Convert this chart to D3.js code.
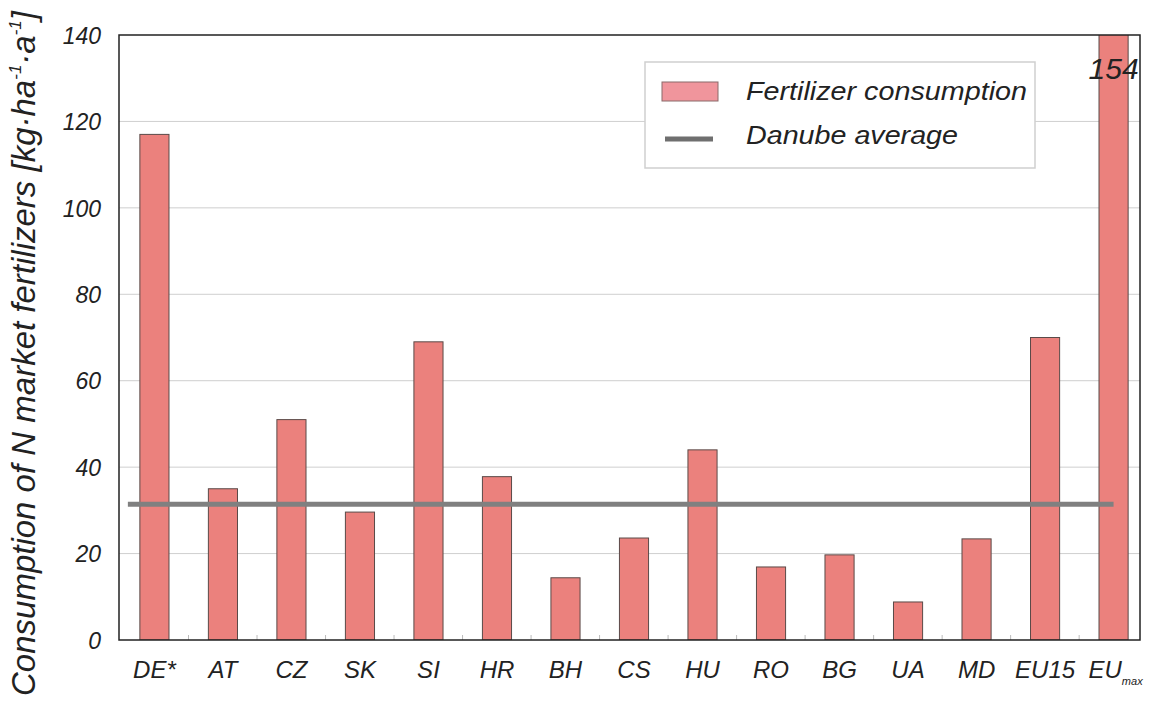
<!DOCTYPE html>
<html>
<head>
<meta charset="utf-8">
<script src="https://cdn.jsdelivr.net/npm/d3@7"></script>
<style>
  body { margin: 0; background: #fff; }
  text { font-family: "Liberation Sans", Arial, sans-serif; font-style: italic; fill: #222; }
</style>
</head>
<body>
<svg id="chart" width="1150" height="704"></svg>
<script>
// data
const countries = ["DE*", "AT", "CZ", "SK", "SI", "HR", "BH", "CS", "HU", "RO", "BG", "UA", "MD", "EU15", "EUmax"]
const consumption = [117, 35, 51, 29.6, 69, 37.8, 14.4, 23.6, 44, 16.9, 19.7, 8.8, 23.4, 70, 154]
const danubeAverage = 31.4
const yTicks = [0, 20, 40, 60, 80, 100, 120, 140]

const svg = d3.select("#chart")
const margin = {top: 35, right: 10, bottom: 64, left: 119}
const width = 1150 - margin.left - margin.right
const height = 704 - margin.top - margin.bottom

// the categories run a little past the right frame in the original
const x = d3.scaleBand().domain(countries).range([1, 1029]).paddingInner(0.575).paddingOuter(0.29)
const y = d3.scaleLinear().domain([0, 140]).range([height, 0])

svg.append("defs").append("clipPath").attr("id", "plotclip")
    .append("rect").attr("width", width).attr("height", height)

const g = svg.append("g").attr("transform", `translate(${margin.left},${margin.top})`)

// gridlines
g.append("g").selectAll("line")
    .data(yTicks.filter(d => d > 0 && d < 140))
    .join("line")
    .attr("x1", 0).attr("x2", width)
    .attr("y1", d => y(d)).attr("y2", d => y(d))
    .attr("stroke", "#cfcfcf").attr("stroke-width", 1)

// small ticks between categories on the bottom
const step = x.step()
g.append("g").selectAll("line")
    .data(d3.range(1, countries.length))
    .join("line")
    .attr("x1", i => x(countries[i]) - step * 0.29).attr("x2", i => x(countries[i]) - step * 0.29)
    .attr("y1", height).attr("y2", height - 5)
    .attr("stroke", "#bbb")

// bars
g.append("g").attr("clip-path", "url(#plotclip)").selectAll("rect")
    .data(countries.map((c, i) => ({c, v: consumption[i]})))
    .join("rect")
    .attr("x", d => x(d.c))
    .attr("width", x.bandwidth())
    .attr("y", d => y(Math.min(d.v, 150)))
    .attr("height", d => height - y(Math.min(d.v, 150)))
    .attr("fill", "#eb817d")
    .attr("stroke", "#5a4a48").attr("stroke-width", 1)

// danube average line
const last = countries[countries.length - 1]
g.append("line")
    .attr("x1", x(countries[0]) - 12)
    .attr("x2", x(last) + x.bandwidth() / 2)
    .attr("y1", y(danubeAverage)).attr("y2", y(danubeAverage))
    .attr("stroke", "#808080").attr("stroke-width", 5)

// value label for the clipped bar
g.append("text")
    .attr("x", x(last) + x.bandwidth() / 2)
    .attr("y", 44)
    .attr("text-anchor", "middle")
    .attr("font-size", 30)
    .text(consumption[consumption.length - 1])

// frame
g.append("rect").attr("width", width).attr("height", height)
    .attr("fill", "none").attr("stroke", "#222").attr("stroke-width", 1.5)

// y axis labels
const yAxis = d3.axisLeft(y).tickValues(yTicks).tickSize(0).tickPadding(18)
g.append("g").call(yAxis)
    .call(s => s.select(".domain").remove())
    .selectAll("text")
    .attr("font-size", 23)
    .attr("dy", "0.36em")
    .style("font-family", "'Liberation Sans', Arial, sans-serif")
    .style("font-style", "italic")
    .attr("fill", "#222")

// x axis labels
const xAxis = d3.axisBottom(x).tickSize(0).tickPadding(21)
const xg = g.append("g").attr("transform", `translate(0,${height})`).call(xAxis)
xg.select(".domain").remove()
xg.selectAll("text")
    .attr("font-size", 24)
    .style("font-family", "'Liberation Sans', Arial, sans-serif")
    .style("font-style", "italic")
    .attr("fill", "#222")
    .each(function(d) {
        if (d === "EUmax") {
            const t = d3.select(this).text("").attr("dx", 2)
            t.append("tspan").text("EU")
            t.append("tspan").attr("font-size", 11).attr("dy", 7).text("max")
        }
    })

// y axis title
const title = svg.append("text")
    .attr("transform", `translate(35,${margin.top + height / 2 + 16}) rotate(-90)`)
    .attr("text-anchor", "middle")
    .attr("font-size", 33)
title.append("tspan").text("Consumption of N market fertilizers [kg·ha")
title.append("tspan").attr("font-size", 17).attr("dy", -14).text("-1")
title.append("tspan").attr("dy", 14).text("·a")
title.append("tspan").attr("font-size", 17).attr("dy", -14).text("-1")
title.append("tspan").attr("dy", 14).text("]")

// legend
const legend = svg.append("g").attr("transform", "translate(645,62)")
legend.append("rect").attr("width", 390).attr("height", 106)
    .attr("fill", "#fff").attr("stroke", "#cfcfcf").attr("stroke-width", 1.5)
legend.append("rect").attr("x", 17).attr("y", 20).attr("width", 56).attr("height", 19)
    .attr("fill", "#f0959c").attr("stroke", "#8a6a6a")
legend.append("text").attr("x", 101).attr("y", 38).attr("font-size", 26)
    .attr("textLength", 281).attr("lengthAdjust", "spacingAndGlyphs")
    .text("Fertilizer consumption")
legend.append("line").attr("x1", 20).attr("x2", 68).attr("y1", 77).attr("y2", 77)
    .attr("stroke", "#6f6f6f").attr("stroke-width", 5)
legend.append("text").attr("x", 101).attr("y", 82).attr("font-size", 26)
    .attr("textLength", 212).attr("lengthAdjust", "spacingAndGlyphs")
    .text("Danube average")
</script>
</body>
</html>
